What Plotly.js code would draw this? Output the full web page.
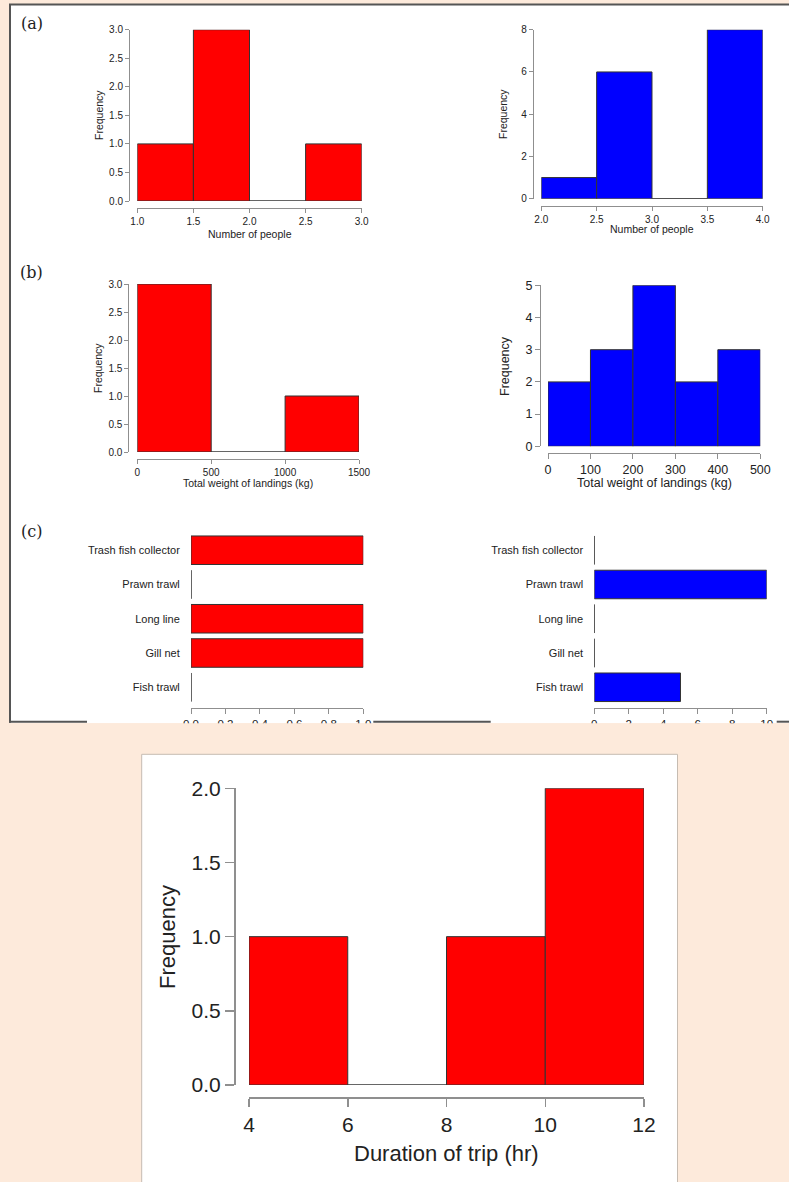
<!DOCTYPE html>
<html><head><meta charset="utf-8">
<script src="https://cdn.plot.ly/plotly-3.0.1.min.js"></script>
<style>html,body{margin:0;padding:0;background:#fdeadb;overflow:hidden}#chart{width:789px;height:1182px}</style>
</head><body><div id="chart"></div>
<script>
// ---------- data ----------
const peopleEdgesA = [1.0, 1.5, 2.0, 2.5, 3.0];
const peopleCountsA = [1, 3, 0, 1];
const peopleEdgesB = [2.0, 2.5, 3.0, 3.5, 4.0];
const peopleCountsB = [1, 6, 0, 8];
const weightEdgesA = [0, 500, 1000, 1500];
const weightCountsA = [3, 0, 1];
const weightEdgesB = [0, 100, 200, 300, 400, 500];
const weightCountsB = [2, 3, 5, 2, 3];
const gearTypes = ["Fish trawl", "Gill net", "Long line", "Prawn trawl", "Trash fish collector"];
const gearCountsA = [0, 1, 1, 0, 1];
const gearCountsB = [5, 0, 0, 10, 0];
const durationEdges = [4, 6, 8, 10, 12];
const durationCounts = [1, 0, 1, 2];

// tick labels
const ticksPeopleA = ["1.0", "1.5", "2.0", "2.5", "3.0"];
const ticksPeopleB = ["2.0", "2.5", "3.0", "3.5", "4.0"];
const ticksFreq3 = ["0.0", "0.5", "1.0", "1.5", "2.0", "2.5", "3.0"];
const ticksFreq8 = ["0", "2", "4", "6", "8"];
const ticksWeightA = ["0", "500", "1000", "1500"];
const ticksWeightB = ["0", "100", "200", "300", "400", "500"];
const ticksFreq5 = ["0", "1", "2", "3", "4", "5"];
const ticksGearA = ["0.0", "0.2", "0.4", "0.6", "0.8", "1.0"];
const ticksGearB = ["0", "2", "4", "6", "8", "10"];
const ticksDuration = ["4", "6", "8", "10", "12"];
const ticksFreq2 = ["0.0", "0.5", "1.0", "1.5", "2.0"];

// ---------- helpers ----------
const W = 789, H = 1182;
const fx = p => p / W, fy = p => 1 - p / H;
const FONT = "Liberation Sans, Arial, sans-serif";
const SERIF = "DejaVu Serif, serif";
const AX = "#8f8f8f", TXT = "#222222", EDGE = "#333333";
const RED = "#ff0000", BLUE = "#0000ff", PEACH = "#fdeadb";
const num = a => a.map(Number);

function histTrace(edges, counts, color, xa, ya) {
  const x = [], w = [];
  for (let i = 0; i < counts.length; i++) { x.push((edges[i] + edges[i + 1]) / 2); w.push(edges[i + 1] - edges[i]); }
  return {type: 'bar', x: x, y: counts, width: w, xaxis: xa, yaxis: ya,
    marker: {color: color, line: {color: EDGE, width: 1}}, hoverinfo: 'skip', showlegend: false};
}
function gearTrace(vals, color, xa, ya) {
  return {type: 'bar', orientation: 'h', x: vals, y: gearTypes, width: 0.833, xaxis: xa, yaxis: ya,
    marker: {color: color, line: {color: EDGE, width: 1}}, hoverinfo: 'skip', showlegend: false};
}
function xAx(px0, px1, ticktext, posPy, fs, tl, lw) {
  const tv = num(ticktext);
  return {domain: [fx(px0), fx(px1)], range: [tv[0], tv[tv.length - 1]], anchor: 'free', position: fy(posPy),
    showline: true, linecolor: AX, linewidth: lw || 1, ticks: 'outside', ticklen: tl, tickcolor: AX, tickwidth: lw || 1,
    tickvals: tv, ticktext: ticktext, tickfont: {family: FONT, size: fs, color: TXT},
    showgrid: false, zeroline: false, fixedrange: true};
}
function yAx(py0, py1, ticktext, posPx, fs, tl, lw) {
  const tv = num(ticktext);
  return {domain: [fy(py0), fy(py1)], range: [tv[0], tv[tv.length - 1]], anchor: 'free', position: fx(posPx),
    showline: true, linecolor: AX, linewidth: lw || 1, ticks: 'outside', ticklen: tl, tickcolor: AX, tickwidth: lw || 1,
    tickvals: tv, ticktext: ticktext, tickfont: {family: FONT, size: fs, color: TXT},
    showgrid: false, zeroline: false, fixedrange: true};
}
function gearY(posPx) {
  return {domain: [fy(704.4), fy(533.1)], type: 'category', categoryorder: 'array', categoryarray: gearTypes,
    range: [-0.5, gearTypes.length - 0.5], anchor: 'free', position: fx(posPx), showline: false,
    ticks: 'outside', ticklen: 9, tickcolor: 'rgba(0,0,0,0)', tickfont: {family: FONT, size: 11, color: TXT},
    showgrid: false, zeroline: false, fixedrange: true};
}
function ann(text, xp, yp, fs, angle, family) {
  return {text: text, xref: 'paper', yref: 'paper', x: fx(xp), y: fy(yp), xanchor: 'center', yanchor: 'middle',
    showarrow: false, textangle: angle || 0, font: {family: family || FONT, size: fs, color: TXT}};
}
function line(x0, y0, x1, y1, color, w, layer) {
  return {type: 'line', xref: 'paper', yref: 'paper', x0: fx(x0), y0: fy(y0), x1: fx(x1), y1: fy(y1),
    line: {color: color, width: w}, layer: layer || 'below'};
}
function rect(x0, y0, x1, y1, fill, lc, lw, layer) {
  return {type: 'rect', xref: 'paper', yref: 'paper', x0: fx(x0), y0: fy(y0), x1: fx(x1), y1: fy(y1),
    fillcolor: fill, line: {color: lc || 'rgba(0,0,0,0)', width: lw || 0}, layer: layer || 'below'};
}

// ---------- traces ----------
const data = [
  histTrace(peopleEdgesA, peopleCountsA, RED, 'x', 'y'),
  histTrace(peopleEdgesB, peopleCountsB, BLUE, 'x2', 'y2'),
  histTrace(weightEdgesA, weightCountsA, RED, 'x3', 'y3'),
  histTrace(weightEdgesB, weightCountsB, BLUE, 'x4', 'y4'),
  gearTrace(gearCountsA, RED, 'x5', 'y5'),
  gearTrace(gearCountsB, BLUE, 'x6', 'y6'),
  histTrace(durationEdges, durationCounts, RED, 'x7', 'y7')
];

const layout = {
  width: W, height: H, autosize: false,
  margin: {l: 0, r: 0, t: 0, b: 0, pad: 0},
  paper_bgcolor: PEACH, plot_bgcolor: 'rgba(0,0,0,0)',
  showlegend: false,
  xaxis: xAx(137.3, 361.7, ticksPeopleA, 207.5, 10, 4),
  yaxis: yAx(201, 29.7, ticksFreq3, 129, 10, 4),
  xaxis2: xAx(541.3, 762.7, ticksPeopleB, 205.5, 10, 4),
  yaxis2: yAx(198.7, 29.7, ticksFreq8, 532.7, 10, 4),
  xaxis3: xAx(137.3, 359, ticksWeightA, 459, 10, 4),
  yaxis3: yAx(452, 284, ticksFreq3, 128.4, 10, 4),
  xaxis4: xAx(548, 760.3, ticksWeightB, 452.7, 12.5, 5),
  yaxis4: yAx(446.3, 285.3, ticksFreq5, 540, 12.5, 5),
  xaxis5: xAx(191, 363.3, ticksGearA, 708.3, 11.5, 4.5),
  yaxis5: gearY(191),
  xaxis6: xAx(594.3, 766.7, ticksGearB, 708.3, 11.5, 4.5),
  yaxis6: gearY(594.3),
  xaxis7: xAx(249, 644, ticksDuration, 1097, 21, 8, 1.5),
  yaxis7: yAx(1085, 788.3, ticksFreq2, 234, 21, 9, 1.5),
  shapes: [
    rect(10, 4.5, 800, 723.3, '#ffffff'),
    line(9, 4.5, 800, 4.5, '#555555', 2),
    line(10, 4, 10, 722.7, '#555555', 2),
    line(9, 721.7, 87, 721.7, '#555555', 2),
    line(373.3, 721.7, 490.7, 721.7, '#555555', 2),
    line(776.7, 721.7, 800, 721.7, '#555555', 2),
    rect(0, 723.3, 800, 748, PEACH, null, 0, 'above'),
    rect(141.7, 754.3, 677.5, 1190, '#ffffff', '#c6bcb2', 1)
  ],
  annotations: [
    ann('(a)', 31.5, 24, 16, 0, SERIF),
    ann('(b)', 31.5, 273, 16, 0, SERIF),
    ann('(c)', 31.5, 531, 16, 0, SERIF),
    ann('Frequency', 99, 115, 10.5, -90),
    ann('Number of people', 249.5, 233.5, 10.5),
    ann('Frequency', 503, 114, 10.5, -90),
    ann('Number of people', 652, 229.5, 10.5),
    ann('Frequency', 98, 368, 10.5, -90),
    ann('Total weight of landings (kg)', 248, 482.7, 10.5),
    ann('Frequency', 505, 366, 12.5, -90),
    ann('Total weight of landings (kg)', 654, 482.7, 12.5),
    ann('Frequency', 167, 937, 22, -90),
    ann('Duration of trip (hr)', 446.5, 1153, 22)
  ]
};

Plotly.newPlot('chart', data, layout, {staticPlot: true, displayModeBar: false});
</script>
</body></html>
